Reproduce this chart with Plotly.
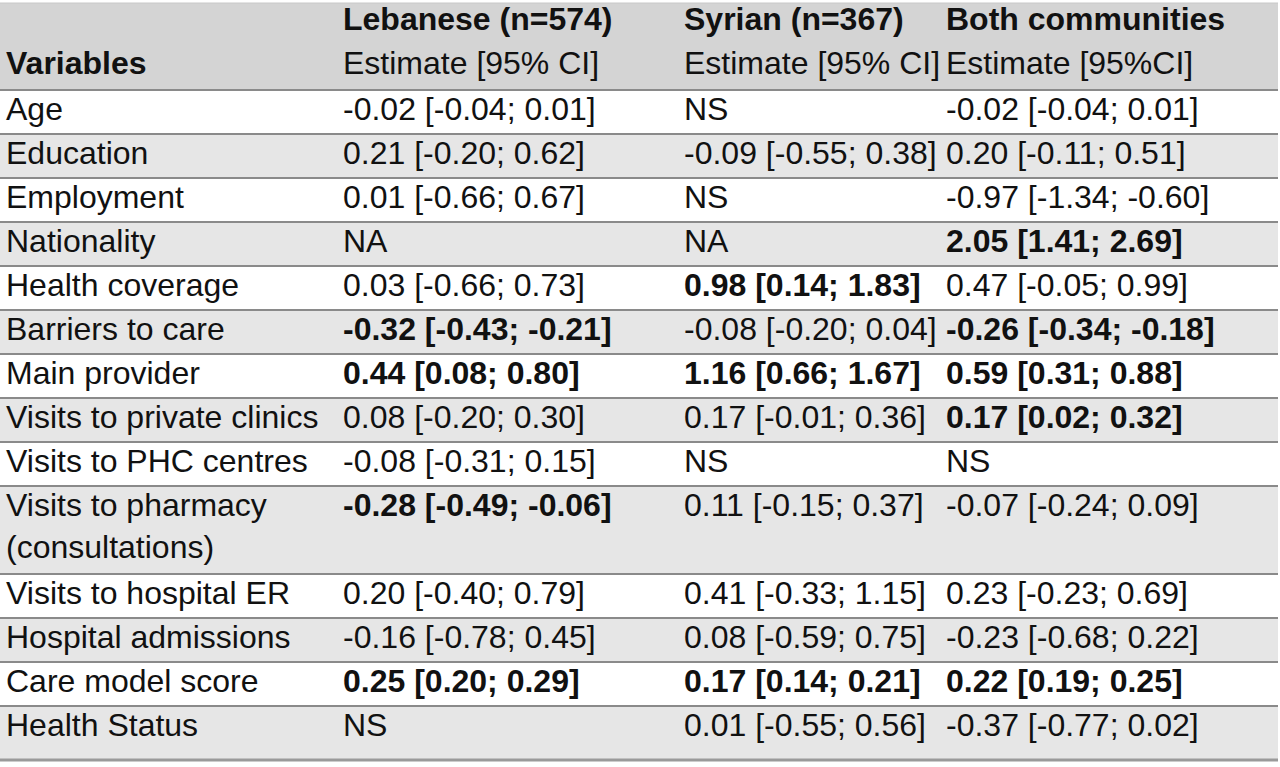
import plotly.graph_objects as go
import numpy as np

# table content
variables = ["Age", "Education", "Employment", "Nationality", "Health coverage",
             "Barriers to care", "Main provider", "Visits to private clinics",
             "Visits to PHC centres", "Visits to pharmacy<br>(consultations)",
             "Visits to hospital ER", "Hospital admissions", "Care model score",
             "Health Status"]

lebanese = ["-0.02 [-0.04; 0.01]", "0.21 [-0.20; 0.62]", "0.01 [-0.66; 0.67]", "NA",
            "0.03 [-0.66; 0.73]", "<b>-0.32 [-0.43; -0.21]</b>", "<b>0.44 [0.08; 0.80]</b>",
            "0.08 [-0.20; 0.30]", "-0.08 [-0.31; 0.15]", "<b>-0.28 [-0.49; -0.06]</b>",
            "0.20 [-0.40; 0.79]", "-0.16 [-0.78; 0.45]", "<b>0.25 [0.20; 0.29]</b>", "NS"]

syrian = ["NS", "-0.09 [-0.55; 0.38]", "NS", "NA", "<b>0.98 [0.14; 1.83]</b>",
          "-0.08 [-0.20; 0.04]", "<b>1.16 [0.66; 1.67]</b>", "0.17 [-0.01; 0.36]", "NS",
          "0.11 [-0.15; 0.37]", "0.41 [-0.33; 1.15]", "0.08 [-0.59; 0.75]",
          "<b>0.17 [0.14; 0.21]</b>", "0.01 [-0.55; 0.56]"]

both = ["-0.02 [-0.04; 0.01]", "0.20 [-0.11; 0.51]", "-0.97 [-1.34; -0.60]",
        "<b>2.05 [1.41; 2.69]</b>", "0.47 [-0.05; 0.99]", "<b>-0.26 [-0.34; -0.18]</b>",
        "<b>0.59 [0.31; 0.88]</b>", "<b>0.17 [0.02; 0.32]</b>", "NS",
        "-0.07 [-0.24; 0.09]", "0.23 [-0.23; 0.69]", "-0.23 [-0.68; 0.22]",
        "<b>0.22 [0.19; 0.25]</b>", "-0.37 [-0.77; 0.02]"]

header_top = ["", "<b>Lebanese (n=574)</b>", "<b>Syrian (n=367)</b>", "<b>Both communities</b>"]
header_sub = ["<b>Variables</b>", "Estimate [95% CI]", "Estimate [95% CI]", "Estimate [95%CI]"]

columns = [variables, lebanese, syrian, both]

# layout of the grid (pixels, y grows downwards)
col_edges = [0, 337, 678, 940, 1278]
header_y0, header_y1 = 3, 90
row_heights = [88 if "<br>" in v else 44 for v in variables]
row_heights[-1] = 54
row_tops = header_y1 + np.concatenate([[0], np.cumsum(row_heights)[:-1]])
table_bottom = header_y1 + sum(row_heights)
pad_x, pad_y, pad_head = 6, 6, 3
FONT = dict(family="Liberation Sans, Arial, sans-serif", size=32, color="#111111")

fig = go.Figure()

# background: header band and shaded rows
shapes = [dict(type="rect", xref="x", yref="y", x0=col_edges[0], x1=col_edges[-1],
               y0=header_y0, y1=header_y1, fillcolor="#d4d4d4", line_width=0, layer="below")]
for i, top in enumerate(row_tops):
    if i % 2 == 1:
        shapes.append(dict(type="rect", xref="x", yref="y", x0=col_edges[0], x1=col_edges[-1],
                           y0=top, y1=top + row_heights[i], fillcolor="#e6e6e6",
                           line_width=0, layer="below"))
# horizontal rules between rows
for y in [header_y1] + list(row_tops[1:]):
    shapes.append(dict(type="line", xref="x", yref="y", x0=col_edges[0], x1=col_edges[-1],
                       y0=y, y1=y, line=dict(color="#8a8a8a", width=2)))
shapes.append(dict(type="line", xref="x", yref="y", x0=col_edges[0], x1=col_edges[-1],
                   y0=header_y0, y1=header_y0, line=dict(color="#c8c8c8", width=1)))
shapes.append(dict(type="line", xref="x", yref="y", x0=col_edges[0], x1=col_edges[-1],
                   y0=table_bottom, y1=table_bottom, line=dict(color="#9a9a9a", width=3)))

# header text (two lines)
for j in range(4):
    fig.add_trace(go.Scatter(
        x=[col_edges[j] + pad_x] * 2,
        y=[header_y0 + pad_head, header_y0 + 44 + pad_head],
        text=[header_top[j], header_sub[j]],
        mode="text", textposition="bottom right", textfont=FONT,
        hoverinfo="skip", showlegend=False,
    ))

# body text
for j, col in enumerate(columns):
    fig.add_trace(go.Scatter(
        x=[col_edges[j] + pad_x] * len(col),
        y=row_tops + pad_y,
        text=col,
        mode="text", textposition="bottom right", textfont=FONT,
        hoverinfo="skip", showlegend=False,
    ))

fig.update_layout(
    width=1280, height=767,
    margin=dict(l=0, r=0, t=0, b=0),
    paper_bgcolor="white", plot_bgcolor="white",
    shapes=shapes,
    xaxis=dict(range=[0, 1280], visible=False, fixedrange=True),
    yaxis=dict(range=[767, 0], visible=False, fixedrange=True),
)

fig.write_html("out.html", config={"displayModeBar": False},
               post_script="document.body.style.margin='0px';")
